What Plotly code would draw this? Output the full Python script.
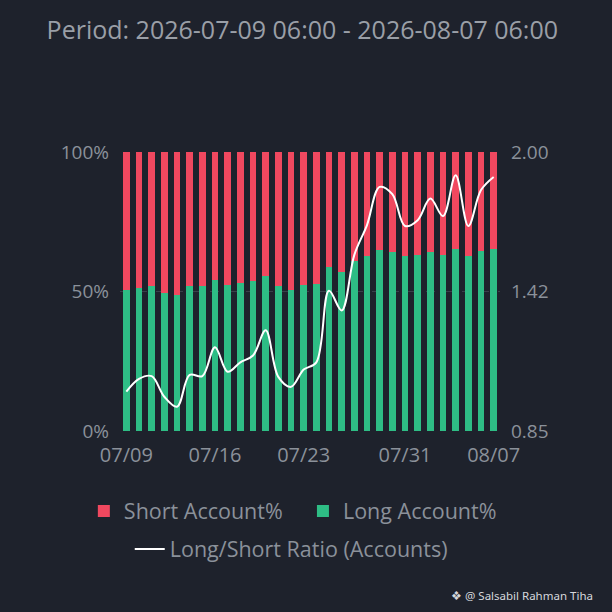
import plotly.graph_objects as go

# daily buckets, 07/09 -> 08/07
days = ["07/09", "07/10", "07/11", "07/12", "07/13", "07/14", "07/15", "07/16",
        "07/17", "07/18", "07/19", "07/20", "07/21", "07/22", "07/23", "07/24",
        "07/25", "07/26", "07/27", "07/28", "07/29", "07/30", "07/31", "08/01",
        "08/02", "08/03", "08/04", "08/05", "08/06", "08/07"]
tick_days = ["07/09", "07/16", "07/23", "07/31", "08/07"]

long_pct = [50.4, 51.4, 51.8, 49.6, 48.7, 52.0, 51.8, 54.3, 52.3, 53.0,
            53.7, 55.7, 51.8, 50.6, 52.4, 52.7, 58.7, 57.1, 61.1, 62.7,
            64.9, 64.3, 62.7, 63.1, 64.2, 63.1, 65.4, 62.7, 64.5, 65.4]
short_pct = [49.6, 48.6, 48.2, 50.4, 51.3, 48.0, 48.2, 45.7, 47.7, 47.0,
             46.3, 44.3, 48.2, 49.4, 47.6, 47.3, 41.3, 42.9, 38.9, 37.3,
             35.1, 35.7, 37.3, 36.9, 35.8, 36.9, 34.6, 37.3, 35.5, 34.6]
ls_ratio = [1.012, 1.065, 1.076, 0.991, 0.950, 1.081, 1.076, 1.195, 1.094, 1.133,
            1.161, 1.265, 1.073, 1.032, 1.103, 1.133, 1.428, 1.347, 1.576, 1.699,
            1.856, 1.826, 1.695, 1.719, 1.808, 1.736, 1.904, 1.695, 1.843, 1.897]

BG = "#1e222c"
GREY = "#8b919a"
RED = "#f0485f"
GREEN = "#2ebd85"
FONT = "Open Sans"

fig = go.Figure()
fig.add_trace(go.Bar(x=days, y=long_pct, name="Long Account%", marker_color=GREEN,
                     marker_line_width=0, legend="legend3"))
fig.add_trace(go.Bar(x=days, y=short_pct, name="Short Account%", marker_color=RED,
                     marker_line_width=0, legend="legend"))
fig.add_trace(go.Scatter(x=days, y=ls_ratio, name="Long/Short Ratio (Accounts)", yaxis="y2",
                         mode="lines", line=dict(color="white", width=2, shape="spline", smoothing=1.0),
                         legend="legend2"))

# one small legend per entry so the rows sit like the original
leg = dict(orientation="h", xref="container", yref="container", xanchor="left",
           yanchor="middle", font=dict(size=21.5, color=GREY), itemwidth=30,
           bgcolor="rgba(0,0,0,0)")

fig.update_layout(
    width=612, height=612,
    barmode="stack", bargap=0.47,
    paper_bgcolor=BG, plot_bgcolor=BG,
    font=dict(family=FONT, color=GREY, size=18),
    margin=dict(l=120, r=112, t=152, b=181, autoexpand=False),
    showlegend=True,
    title=dict(text="Period: 2026-07-09 06:00 - 2026-08-07 06:00", x=0.494, xanchor="center",
               y=0.951, yanchor="middle", font=dict(size=25, color="#9a9fa7")),
    legend=dict(leg, x=0.137, y=0.165),
    legend3=dict(leg, x=0.495, y=0.165),
    legend2=dict(leg, x=0.212, y=0.103),
    xaxis=dict(type="category", tickmode="array", tickvals=tick_days, ticktext=tick_days,
               showgrid=False, showline=False, ticks="", tickfont=dict(size=20), ticklabelstandoff=10),
    yaxis=dict(range=[0, 100], tickvals=[0, 50, 100], ticktext=["0%", "50%", "100%"],
               showgrid=True, gridcolor="#3a404a", griddash="dash", gridwidth=1,
               zeroline=False, tickfont=dict(size=19), ticklabelstandoff=10),
    yaxis2=dict(range=[0.85, 2.00], overlaying="y", side="right", tickvals=[0.85, 1.425, 2.00],
                ticktext=["0.85", "1.42", "2.00"], showgrid=False, zeroline=False,
                tickfont=dict(size=19), ticklabelstandoff=10),
)

fig.add_annotation(text="❖ @ Salsabil Rahman Tiha", xref="paper", yref="paper",
                   x=1.25, y=-0.588, xanchor="right", yanchor="middle", showarrow=False,
                   font=dict(family="Noto Sans", size=11.5, color="#d6d8dc"))

fig.write_html("out.html", config={"displayModeBar": False},
               post_script="document.body.style.margin='0';")
